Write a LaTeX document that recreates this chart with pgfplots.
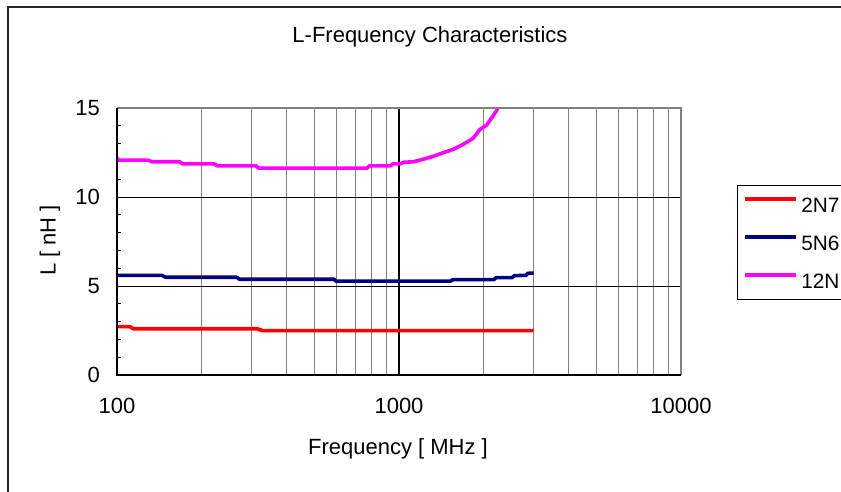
\documentclass[border=0pt]{standalone}
\usepackage{fontspec}
\setmainfont{Liberation Sans}
\usepackage{pgfplots}
\pgfplotsset{compat=1.18}

\definecolor{gridgray}{RGB}{128,128,128}
\definecolor{c2n7}{RGB}{255,0,0}
\definecolor{c5n6}{RGB}{0,0,128}
\definecolor{c12n}{RGB}{255,0,255}
\newcommand{\chfont}{\fontsize{22}{26}\selectfont}
\newcommand{\legfont}{\fontsize{20.8}{25}\selectfont}

\begin{document}
\begin{tikzpicture}[x=1pt,y=1pt]
  \useasboundingbox (0,0) rectangle (841,491);
  % outer chart frame (only the left and top edges are inside the picture)
  \draw[line width=1.3pt, black!85] (8,-20) -- (8,484) -- (870,484);

  \begin{axis}[
      at={(117pt,116pt)}, anchor=south west,
      scale only axis,
      width=564pt, height=267pt,
      xmode=log,
      xmin=100, xmax=10000,
      ymin=0, ymax=15,
      xtick={100,1000,10000},
      xticklabels={100,1000,10000},
      minor xtick={200,300,400,500,600,700,800,900,2000,3000,4000,5000,6000,7000,8000,9000},
      ytick={0,5,10,15},
      yticklabels={0,5,10,15},
      minor ytick={1,2,3,4,6,7,8,9,11,12,13,14},
      ytick pos=left,
      tick align=inside,
      major tick length=4pt, minor tick length=4pt,
      xtick style={draw=none},
      ytick style={black, line width=0.9pt},
      xmajorgrids, xminorgrids, ymajorgrids,
      major x grid style={black, line width=1.7pt},
      minor x grid style={gridgray, line width=1.1pt},
      major y grid style={black, line width=0.9pt},
      axis line style={draw=none},
      tick label style={font=\chfont},
      /pgf/number format/assume math mode=true,
      xticklabel style={anchor=base, inner sep=0pt, yshift=-38.3pt},
      yticklabel style={anchor=east, inner sep=0pt, xshift=-17pt},
      legend style={at={(1.0993,0.7116)}, anchor=north west,
        draw=black, line width=0.9pt, fill=white,
        font=\legfont, inner xsep=6pt, inner ysep=11pt,
        nodes={inner sep=0pt, text height=15.7pt, text depth=0pt},
        row sep=22.3pt, column sep=3pt},
      legend cell align=left,
      legend image code/.code={\draw[#1, line width=3.8pt] (0pt,5.7pt) -- (51pt,5.7pt);},
      every axis plot/.append style={line width=3.6pt, line join=round, mark=none},
      after end axis/.code={
        \draw[gridgray, line width=1.5pt] (rel axis cs:0,1) -- (rel axis cs:1,1) -- (rel axis cs:1,0);
        \draw[black, line width=1.6pt] (rel axis cs:0,1) -- (rel axis cs:0,0) -- (rel axis cs:1,0);
      },
    ]

    \addplot[c2n7] coordinates {
      (100,2.72) (111,2.72) (114,2.60) (316,2.60) (319,2.52) (322,2.56) (327,2.49) (3000,2.49)
    };
    \addlegendentry{2N7\hspace*{30pt}}

    \addplot[c5n6] coordinates {
      (100,5.60) (144,5.60) (149,5.49) (266,5.49) (272,5.38) (588,5.38) (598,5.27)
      (1520,5.27) (1555,5.36) (2170,5.36) (2210,5.47) (2520,5.47) (2565,5.58)
      (2820,5.60) (2860,5.71) (3000,5.73)
    };
    \addlegendentry{5N6}

    \addplot[c12n] coordinates {
      (100,12.20) (101,12.07) (129,12.07) (133,11.98) (167,11.98) (171,11.86)
      (221,11.86) (227,11.75) (311,11.75) (318,11.62) (770,11.62) (786,11.75)
      (935,11.75) (950,11.86) (1008,11.86) (1040,11.95) (1124,11.98) (1219,12.12)
      (1324,12.29) (1436,12.49) (1559,12.68) (1690,12.96) (1833,13.30) (1937,13.80)
      (2046,14.04) (2132,14.45) (2220,14.86) (2300,15.40)
    };
    \addlegendentry{12N}
  \end{axis}

  \node[font=\chfont, anchor=base] at (430,448) {L-Frequency Characteristics};
  \node[font=\chfont, anchor=base] at (398,37) {Frequency [ MHz ]};
  \node[font=\chfont, anchor=base, rotate=90] at (55.7,250.5) {L [ nH ]};
\end{tikzpicture}
\end{document}
